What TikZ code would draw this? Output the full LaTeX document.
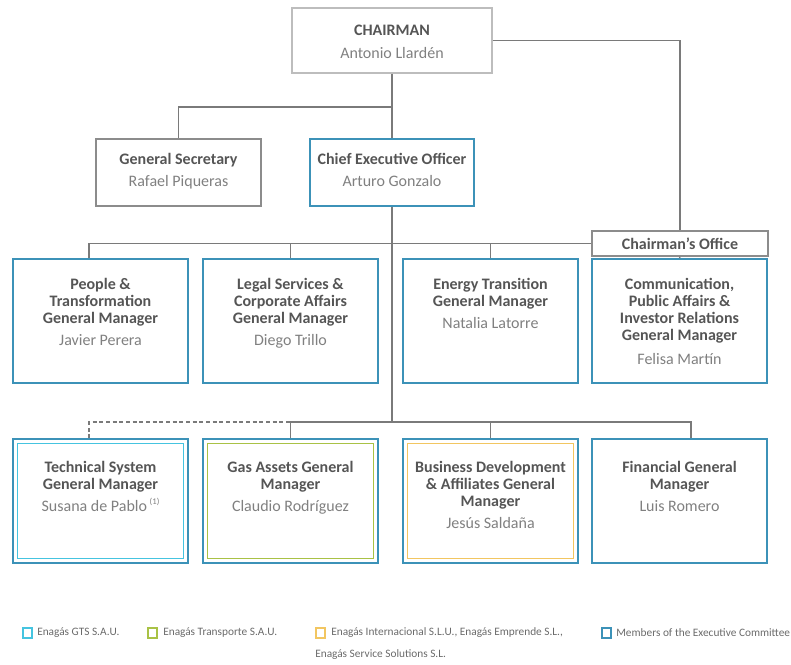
\documentclass[tikz,border=0pt]{standalone}
\usepackage{fontspec}
\setmainfont{Carlito}
\usetikzlibrary{fit}
\definecolor{teal}{HTML}{3C92B8}
\definecolor{cyanb}{HTML}{45C4E0}
\definecolor{greenb}{HTML}{A9C245}
\definecolor{orangeb}{HTML}{F2C661}
\definecolor{lightgrayb}{HTML}{BDBDBD}
\definecolor{midgrayb}{HTML}{8C8C8C}
\definecolor{linegray}{HTML}{7A7A7A}
\definecolor{titlegray}{HTML}{555555}
\definecolor{namegray}{HTML}{808080}
\definecolor{leggray}{HTML}{6A6A6A}
\newcommand{\nm}[1]{\textcolor{namegray}{\mdseries #1}}
\begin{document}
\begin{tikzpicture}[x=0.75pt,y=-0.75pt,
  box/.style={draw, inner sep=0pt, line width=1.1pt},
  graybox/.style={box, draw=midgrayb},
  chairbox/.style={box, draw=lightgrayb},
  execbox/.style={box, draw=teal},
  innerbox/.style={draw, inner sep=-3.75pt, line width=1.1pt},
  txt/.style={anchor=north, inner sep=0pt, align=center, text=titlegray,
    font=\fontsize{12}{12.75}\selectfont\bfseries},
  conn/.style={draw=linegray, line width=1pt},
  legsq/.style={draw, line width=1.3pt, minimum size=7pt, inner sep=0pt},
  legtxt/.style={anchor=west, inner sep=0pt, text=leggray, font=\fontsize{8.5}{10}\selectfont}
]
\useasboundingbox (0,0) rectangle (791,664);

% boxes
\node[chairbox, fit={(292,8) (492,73)}] (chair) {};
\node[graybox, fit={(96,139) (261,206)}] (gensec) {};
\node[execbox, fit={(310,139) (474,206)}] (ceo) {};
\node[graybox, fit={(592,231) (768,256)}] (office) {};

\node[execbox, fit={(13,259) (188,383)}] (people) {};
\node[execbox, fit={(203,259) (378,383)}] (legal) {};
\node[execbox, fit={(403,259) (578,383)}] (energy) {};
\node[execbox, fit={(592,259) (767,383)}] (comm) {};

\node[execbox, fit={(13,439) (188,563)}] (tech) {};
\node[execbox, fit={(203,439) (378,563)}] (gas) {};
\node[execbox, fit={(403,439) (578,563)}] (busdev) {};
\node[execbox, fit={(592,439) (767,563)}] (fin) {};
\node[innerbox, draw=cyanb, fit=(tech)] (techin) {};
\node[innerbox, draw=greenb, fit=(gas)] (gasin) {};
\node[innerbox, draw=orangeb, fit=(busdev)] (busdevin) {};

% texts
\node[txt] (chairt) at (392,25) {CHAIRMAN\\[4pt]\nm{Antonio Llardén}};
\node[txt] (gensect) at (178.5,153) {General Secretary\\[4pt]\nm{Rafael Piqueras}};
\node[txt] (ceot) at (392,153) {Chief Executive Officer\\[4pt]\nm{Arturo Gonzalo}};
\node[txt, anchor=center] (officet) at (office.center) {Chairman's Office};

\node[txt] (peoplet) at (100.5,278) {People \&\\Transformation\\General Manager\\[4pt]\nm{Javier Perera}};
\node[txt] (legalt) at (290.5,278) {Legal Services \&\\Corporate Affairs\\General Manager\\[4pt]\nm{Diego Trillo}};
\node[txt] (energyt) at (490.5,278) {Energy Transition\\General Manager\\[4pt]\nm{Natalia Latorre}};
\node[txt] (commt) at (679.5,278) {Communication,\\Public Affairs \&\\Investor Relations\\General Manager\\[5pt]\nm{Felisa Martín}};

\node[txt] (techt) at (100.5,461) {Technical System\\General Manager\\[4pt]\nm{Susana de Pablo\,\raisebox{0.45em}{\fontsize{6.5}{7}\selectfont(1)}}};
\node[txt] (gast) at (290.5,461) {Gas Assets General\\Manager\\[4pt]\nm{Claudio Rodríguez}};
\node[txt] (busdevt) at (490.5,461) {Business Development\\\& Affiliates General\\Manager\\[4pt]\nm{Jesús Saldaña}};
\node[txt] (fint) at (679.5,461) {Financial General\\Manager\\[4pt]\nm{Luis Romero}};

% connectors
\coordinate (j1) at (392,107);
\coordinate (pdx) at (89,0);
\coordinate (fdx) at (691,0);
\coordinate (b3) at (392,422);
\draw[conn] (chair.south) -- (ceo.north);
\draw[conn] (gensec.north) |- (j1);
\draw[conn] (chair.east) -| (office.north);
\draw[conn] (office.south) -- (comm.north);
\draw[conn] (pdx |- people.north) |- (office.west);
\draw[conn] (legal.north) -- (legal.north |- office.west);
\draw[conn] (energy.north) -- (energy.north |- office.west);
\draw[conn] (ceo.south) -- (b3);
\draw[conn, dashed, dash pattern=on 3pt off 2pt] (pdx |- tech.north) |- (gas.north |- b3);
\draw[conn] (gas.north) |- (fdx |- b3) -- (fdx |- fin.north);
\draw[conn] (busdev.north) -- (busdev.north |- b3);

% legend
\node[legsq, draw=cyanb] (lg1) at (27.5,633) {};
\node[legtxt] (lg1t) at (37,633) {Enagás GTS S.A.U.};
\node[legsq, draw=greenb] (lg2) at (152.5,633) {};
\node[legtxt] (lg2t) at (163,633) {Enagás Transporte S.A.U.};
\node[legsq, draw=orangeb] (lg3) at (320.5,633) {};
\node[legtxt] (lg3t) at (331,633) {Enagás Internacional S.L.U., Enagás Emprende S.L.,};
\node[legtxt] (lg3t2) at (315,655) {Enagás Service Solutions S.L.};
\node[legsq, draw=teal] (lg4) at (606.5,633) {};
\node[legtxt] (lg4t) at (616,633) {Members of the Executive Committee};
\end{tikzpicture}
\end{document}
